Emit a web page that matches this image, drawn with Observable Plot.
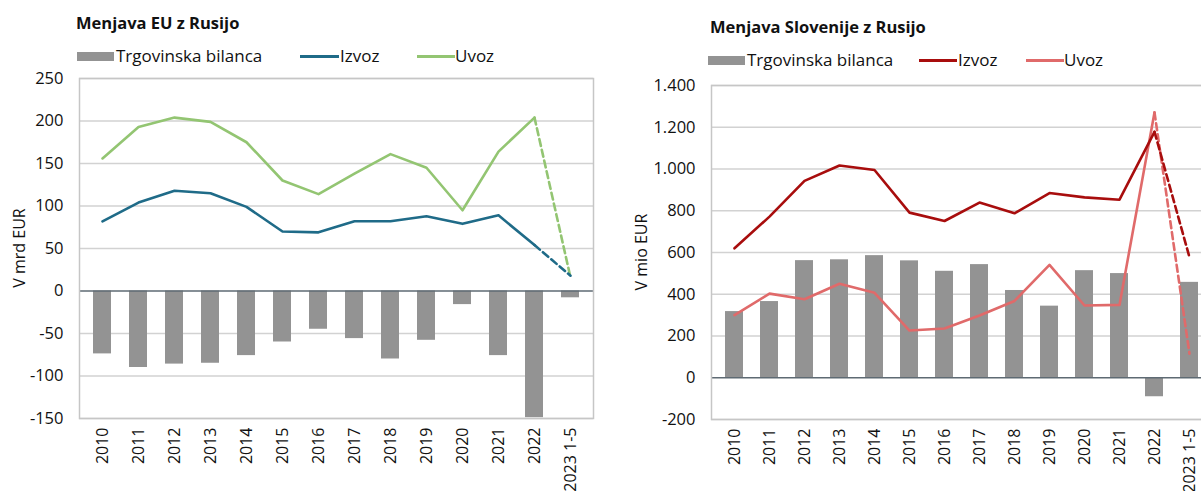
<!DOCTYPE html>
<html>
<head>
<meta charset="utf-8">
<script src="https://cdn.jsdelivr.net/npm/d3@7"></script>
<script src="https://cdn.jsdelivr.net/npm/@observablehq/plot@0.6"></script>
<style>
  html, body { margin: 0; padding: 0; background: #fff; overflow: hidden; }
  body { width: 1201px; height: 491px; position: relative; font-family: "Open Sans", sans-serif; color: #111; }
  .abs { position: absolute; white-space: nowrap; }
  .title { font-weight: bold; font-size: 16.5px; }
  .leg { font-size: 17px; line-height: 17px; }
  .sw-bar { position: absolute; background: #939393; }
  .sw-line { position: absolute; height: 3px; }
  .ylab { font-size: 16px; transform: translate(-50%, -50%) rotate(-90deg); }
  svg { position: absolute; top: 0; }
</style>
</head>
<body>
<script>
// ---------- data ----------
const categories = ["2010","2011","2012","2013","2014","2015","2016","2017","2018","2019","2020","2021","2022","2023 1-5"];

// EU trade with Russia (bn EUR)
const euBalance = [-74, -90, -86, -85, -76, -60, -45, -56, -80, -58, -16, -76, -149, -8];
const euExports = [82, 104, 118, 115, 99, 70, 69, 82, 82, 88, 79, 89, 54, 18];
const euImports = [156, 193, 204, 199, 175, 130, 114, 138, 161, 145, 95, 164, 204, 16];

// Slovenia trade with Russia (mio EUR)
const siBalance = [317, 365, 561, 565, 585, 560, 510, 542, 418, 343, 513, 499, -91, 457];
const siExports = [620, 772, 943, 1017, 995, 791, 751, 839, 788, 885, 864, 853, 1178, 577];
const siImports = [300, 403, 376, 450, 407, 226, 236, 298, 368, 541, 346, 349, 1271, 115];

const euTicks = [-150, -100, -50, 0, 50, 100, 150, 200, 250];
const siTicks = [-200, 0, 200, 400, 600, 800, 1000, 1200, 1400];

const legendLabels = ["Trgovinska bilanca", "Izvoz", "Uvoz"];

// ---------- helpers ----------
const fmtSI = d => (d < 0 ? "-" : "") + d3.format(",")(Math.abs(d)).replace(/,/g, ".");
const fmtEU = d => (d < 0 ? "-" : "") + Math.abs(d);

function rows(bal, exp, imp) {
  return categories.map((c, i) => ({cat: c, bal: bal[i], exp: exp[i], imp: imp[i], i}));
}

function panel({data, ticks, domain, fmt, left, width, marginLeft, marginRight, marginTop, marginBottom, expColor, impColor}) {
  const solid = data.filter(d => d.i <= 12);
  const dashed = data.filter(d => d.i >= 12);
  const p = Plot.plot({
    width, height: 491,
    marginLeft, marginRight, marginTop, marginBottom,
    style: {fontFamily: "Open Sans, sans-serif", fontSize: "16px", color: "#111", background: "transparent", overflow: "visible"},
    x: {type: "band", domain: categories, paddingInner: 0.5, paddingOuter: 0.25, label: null},
    y: {domain, label: null},
    marks: [
      Plot.ruleY(ticks.filter(t => t !== 0), {stroke: "#d2d2d2", strokeWidth: 1.3}),
      Plot.barY(data, {x: "cat", y: "bal", fill: "#939393"}),
      Plot.ruleY([0], {stroke: "#5e6a73", strokeWidth: 1.5}),
      Plot.line(solid, {x: "cat", y: "imp", stroke: impColor, strokeWidth: 2.6}),
      Plot.line(solid, {x: "cat", y: "exp", stroke: expColor, strokeWidth: 2.6}),
      Plot.line(dashed, {x: "cat", y: "imp", stroke: impColor, strokeWidth: 2.6, strokeDasharray: "7,4"}),
      Plot.line(dashed, {x: "cat", y: "exp", stroke: expColor, strokeWidth: 2.6, strokeDasharray: "7,4"}),
      Plot.frame({stroke: "#c6c6c6", strokeWidth: 1.5}),
      Plot.axisY({ticks, tickSize: 0, tickPadding: 16, tickFormat: fmt, fontSize: 16.5, label: null}),
      Plot.axisX({tickSize: 0, tickPadding: 9, tickRotate: -90, fontSize: 16, label: null})
    ]
  });
  p.style.left = left + "px";
  document.body.appendChild(p);
}

function addDiv(cls, text, x, y, extra = {}) {
  const d = document.createElement("div");
  d.className = "abs " + cls;
  d.textContent = text;
  d.style.left = x + "px";
  d.style.top = y + "px";
  Object.assign(d.style, extra);
  document.body.appendChild(d);
  return d;
}
function addBox(cls, x, y, w, h, color) {
  const d = document.createElement("div");
  d.className = cls;
  d.style.left = x + "px"; d.style.top = y + "px";
  d.style.width = w + "px"; d.style.height = h + "px";
  if (color) d.style.background = color;
  document.body.appendChild(d);
}

// ---------- left panel ----------
panel({
  data: rows(euBalance, euExports, euImports), ticks: euTicks, domain: [-150, 250], fmt: fmtEU,
  left: 0, width: 600, marginLeft: 79, marginRight: 7, marginTop: 78, marginBottom: 73,
  expColor: "#1f6b88", impColor: "#93c572"
});
addDiv("title", "Menjava EU z Rusijo", 76, 11);
addBox("sw-bar", 77, 52, 37, 9);
addDiv("leg", legendLabels[0], 116, 47);
addBox("sw-line", 300, 55, 39, 3, "#1f6b88");
addDiv("leg", legendLabels[1], 340, 47);
addBox("sw-line", 417, 55, 38, 3, "#93c572");
addDiv("leg", legendLabels[2], 455, 47);
addDiv("ylab", "V mrd EUR", 19, 248);

// ---------- right panel ----------
panel({
  data: rows(siBalance, siExports, siImports), ticks: siTicks, domain: [-200, 1400], fmt: fmtSI,
  left: 600, width: 620, marginLeft: 111, marginRight: 9, marginTop: 85, marginBottom: 72,
  expColor: "#a80d0d", impColor: "#e06a6a"
});
addDiv("title", "Menjava Slovenije z Rusijo", 710, 15);
addBox("sw-bar", 708, 56, 37, 9);
addDiv("leg", legendLabels[0], 747, 51);
addBox("sw-line", 919, 59, 38, 3, "#a80d0d");
addDiv("leg", legendLabels[1], 958, 51);
addBox("sw-line", 1026, 59, 38, 3, "#e06a6a");
addDiv("leg", legendLabels[2], 1064, 51);
addDiv("ylab", "V mio EUR", 641, 252);
</script>
</body>
</html>
